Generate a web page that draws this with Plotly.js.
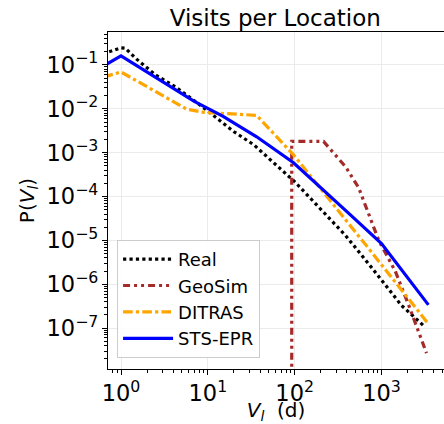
<!DOCTYPE html>
<html><head><meta charset="utf-8">
<script src="https://cdn.plot.ly/plotly-3.0.1.min.js"></script>
<style>body{margin:0;padding:0;background:#fff}#c{width:444px;height:424px}</style>
</head><body><div id="c"></div>
<script>
const realX = [0.73, 1, 1.12, 1.5, 2.5, 4.3, 8.5, 20, 34, 57, 102, 190, 385, 770, 1200, 1700, 3200];
const realY = [0.2, 0.245, 0.24, 0.137, 0.059, 0.031, 0.0114, 0.003, 0.0015, 5.9e-4, 2.1e-4, 5.7e-5, 1.3e-5, 2.4e-6, 8e-7, 3.3e-7, 1.05e-7];
const geoX = [92.5, 92.5, 215, 385, 545, 930, 1440, 2040, 3300];
const geoY = [1e-10, 1.8e-3, 1.8e-3, 4.8e-4, 1.6e-4, 1e-5, 2.0e-6, 3.5e-7, 2.7e-8];
const ditX = [0.63, 1, 5.7, 9, 36.5, 97, 710, 3470];
const ditY = [0.053, 0.069, 0.0098, 0.0083, 0.0071, 8.9e-4, 6.6e-6, 1.25e-7];
const stsX = [0.69, 1, 6.9, 15, 36.5, 97, 417, 1000, 3470];
const stsY = [0.105, 0.16, 0.0149, 0.0067, 0.0023, 5.9e-4, 4.2e-5, 8.5e-6, 3.4e-7];
const names = ['Real', 'GeoSim', 'DITRAS', 'STS-EPR'];
// default power-format labels for 1 and 10 are plain; show them as 10^0 and 10^1
const xLabelAlias = {'1': '10<sup>0</sup>', '10': '10<sup>1</sup>'};

const traces = [
  {x: realX, y: realY, name: names[0], mode: 'lines', line: {color: '#000000', width: 3.2, dash: 'dot'}},
  {x: geoX, y: geoY, name: names[1], mode: 'lines', line: {color: '#a52a2a', width: 3.2, dash: '7px,4px,3px,4px,3px,4px'}},
  {x: ditX, y: ditY, name: names[2], mode: 'lines', line: {color: '#ffa500', width: 3.2, dash: 'dashdot'}},
  {x: stsX, y: stsY, name: names[3], mode: 'lines', line: {color: '#0000ff', width: 3.2}}
];
const font = {family: 'DejaVu Sans', size: 18, color: '#000'};
const layout = {
  width: 444, height: 424,
  margin: {l: 108, r: 0, t: 32, b: 55},
  paper_bgcolor: '#fff', plot_bgcolor: '#fff',
  font: font,
  showlegend: true,
  title: {text: 'Visits per Location', font: {family: 'DejaVu Sans', size: 23, color: '#000'}, x: 0.62, xanchor: 'center', yref: 'container', y: 0.958, yanchor: 'middle'},
  xaxis: {
    type: 'log', range: [-0.15, 3.72],
    showline: true, linecolor: '#000', linewidth: 1, mirror: true,
    ticks: 'outside', ticklen: 5, tickcolor: '#000',
    dtick: 1, exponentformat: 'power', labelalias: xLabelAlias,
    showgrid: true, gridcolor: '#ebebeb', gridwidth: 1, zeroline: false,
    minor: {ticks: 'outside', ticklen: 3, tickcolor: '#000', showgrid: false, dtick: 'D1'},
    tickfont: font,
    title: {text: '<i>V<sub>l</sub></i>  (d)', font: {family: 'DejaVu Sans', size: 20, color: '#000'}, standoff: 1}
  },
  yaxis: {
    type: 'log', range: [-7.93, -0.25],
    showline: true, linecolor: '#000', linewidth: 1, mirror: true,
    ticks: 'outside', ticklen: 5, tickcolor: '#000',
    dtick: 1, exponentformat: 'power',
    showgrid: true, gridcolor: '#ebebeb', gridwidth: 1, zeroline: false,
    minor: {ticks: 'outside', ticklen: 3, tickcolor: '#000', showgrid: false, dtick: 'D1'},
    tickfont: font,
    title: {text: 'P(<i>V<sub>l</sub></i>)', font: {family: 'DejaVu Sans', size: 20, color: '#000'}, standoff: 6}
  },
  legend: {
    x: 0.027, y: 0.033, xanchor: 'left', yanchor: 'bottom',
    bgcolor: 'rgba(255,255,255,0.9)', bordercolor: '#cccccc', borderwidth: 1,
    font: {family: 'DejaVu Sans', size: 18, color: '#000'},
    itemwidth: 50, tracegroupgap: 0
  }
};
Plotly.newPlot('c', traces, layout, {displayModeBar: false, staticPlot: true});
</script>
</body></html>
